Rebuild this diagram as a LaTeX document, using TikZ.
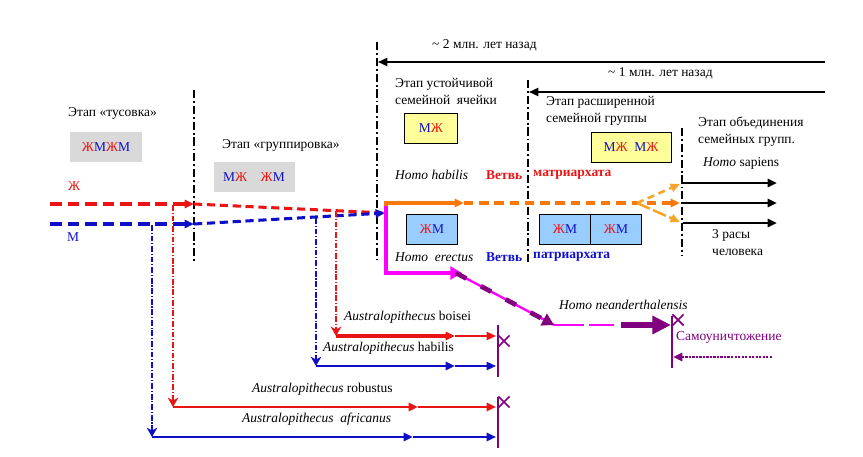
\documentclass[tikz,border=0pt]{standalone}
\usepackage{fontspec}
\setmainfont{Liberation Serif}
\usetikzlibrary{arrows.meta,shapes.misc}

\definecolor{zred}{RGB}{235,20,20}
\definecolor{mblue}{RGB}{15,15,200}
\definecolor{zorange}{RGB}{250,120,10}
\definecolor{zlorange}{RGB}{245,165,40}
\definecolor{zpurple}{RGB}{128,0,128}
\definecolor{zmag}{RGB}{255,0,255}
\definecolor{zgray}{RGB}{217,217,217}
\definecolor{zyellow}{RGB}{255,255,153}
\definecolor{zlblue}{RGB}{153,204,255}

\newcommand{\ZhM}{\textcolor{zred}{Ж}\textcolor{mblue}{М}}
\newcommand{\MZh}{\textcolor{mblue}{М}\textcolor{zred}{Ж}}

\begin{document}
\begin{tikzpicture}[
    x=0.03cm, y=-0.03cm,
    every node/.style={inner sep=0pt, font=\fontsize{11.5}{14.5}\selectfont}
]

\tikzset{
  stage/.style={line width=1.5pt, dash pattern=on 7pt off 2.5pt on 1.5pt off 2.5pt},
  graybox/.style={fill=zgray, minimum height=0.88cm},
  colbox/.style={draw=black, line width=0.8pt, fill=#1, minimum height=0.9cm},
  tip/.style={-{Triangle[length=8pt,width=7pt]}},
  drop/.style={line width=1.3pt, dash pattern=on 5pt off 1.5pt on 1pt off 1.5pt,
               -{Stealth[length=8pt,width=9pt,inset=2.5pt]}},
  kill/.style={draw=zpurple, cross out, line width=1.5pt, minimum size=8pt},
  bar/.style={draw=zpurple, line width=2.4pt}
}

\useasboundingbox (0,0) rectangle (863,457);

% ================= stage lines =================

\coordinate (s1t) at (194,90);  \coordinate (s1b) at (194,262);
\coordinate (s2t) at (377,42);  \coordinate (s2b) at (377,263);
\coordinate (s3t) at (528,80);  \coordinate (s3b) at (528,265);
\coordinate (s4t) at (682,128); \coordinate (s4b) at (682,256);

\draw[stage] (s1t) -- (s1b);
\draw[stage] (s2t) -- (s2b);
\draw[stage] (s3t) -- (s3b);
\draw[stage] (s4t) -- (s4b);

% ================= time arrows =================

\coordinate (t2r) at (825,62); \coordinate (t2l) at (378,62);
\coordinate (t1r) at (825,92); \coordinate (t1l) at (529,92);

\draw[line width=1.6pt, tip] (t2r) -- (t2l);
\draw[line width=1.6pt, tip] (t1r) -- (t1l);

\node[anchor=west] (t2) at (432,45) {\textasciitilde{} 2 млн. лет назад};
\node[anchor=west] (t1) at (608,73) {\textasciitilde{} 1 млн. лет назад};

% ================= stage titles and boxes =================

\node[anchor=west] (st1) at (68,113) {Этап «тусовка»};
\node[graybox, minimum width=2.13cm] (g1) at (106,147) {\ZhM\ZhM\hspace{0.4em}};
\node[anchor=west] (st2) at (222,145) {Этап «группировка»};
\node[graybox, minimum width=2.43cm] (g2) at (254,177) {\MZh\quad\ZhM};

\node[anchor=west, align=left] (st3) at (395,91) {Этап устойчивой\\семейной\ \ ячейки};
\node[colbox=zyellow, minimum width=1.59cm] (y1) at (431,128) {\MZh\hspace{0.4em}};
\node[anchor=west, align=left] (st4) at (546,111) {Этап расширенной\\семейной группы};
\node[colbox=zyellow, minimum width=2.4cm] (y2) at (631,147) {\MZh\ \ \MZh};
\node[anchor=west, align=left] (st5) at (698,132) {Этап объединения\\семейных групп.};

\node[colbox=zlblue, minimum width=1.53cm] (c1) at (432,229) {\ZhM\hspace{0.4em}};
\node[colbox=zlblue, minimum width=1.53cm] (c2) at (565,229) {\ZhM\hspace{0.4em}};
\node[colbox=zlblue, minimum width=1.53cm] (c3) at (616,229) {\ZhM\hspace{0.4em}};

% ================= early lines =================

\node[anchor=west, text=zred] (zh) at (68,186) {Ж};
\node[anchor=west, text=mblue] (m) at (67,237) {М};

\coordinate (rs) at (50,204);  \coordinate (r1) at (194,204);
\coordinate (bs) at (50,224);  \coordinate (b1) at (194,224);
\coordinate (mg) at (385,213);

\draw[zred, line width=3.2pt, dash pattern=on 10pt off 5pt, tip] (rs) -- (r1);
\draw[zred, line width=2.6pt, dash pattern=on 7pt off 4pt] (r1) -- (mg);
\draw[mblue, line width=3.2pt, dash pattern=on 10pt off 5pt, tip] (bs) -- (b1);
\draw[mblue, line width=2.6pt, dash pattern=on 7pt off 4pt, tip] (b1) -- (mg);

% ================= Australopithecus =================

\coordinate (ra0) at (173,205); \coordinate (ra1) at (173,407);
\coordinate (ra2) at (418,407); \coordinate (ra3) at (496,407);
\coordinate (ba0) at (152,225); \coordinate (ba1) at (152,437);
\coordinate (ba2) at (413,437); \coordinate (ba3) at (496,437);
\coordinate (bb0) at (316,218); \coordinate (bb1) at (316,366);
\coordinate (bb2) at (455,366); \coordinate (bb3) at (496,366);
\coordinate (rb0) at (336,211); \coordinate (rb1) at (336,336);
\coordinate (rb2) at (455,336); \coordinate (rb3) at (496,336);

\draw[zred, drop] (ra0) -- (ra1);
\draw[zred, line width=2.4pt, tip] (ra1) -- (ra2);
\draw[zred, line width=1.8pt, tip] (ra2) -- (ra3);
\draw[mblue, drop] (ba0) -- (ba1);
\draw[mblue, line width=2pt, tip] (ba1) -- (ba2);
\draw[mblue, line width=1.8pt, tip] (ba2) -- (ba3);
\draw[mblue, drop] (bb0) -- (bb1);
\draw[mblue, line width=2.4pt, tip] (bb1) -- (bb2);
\draw[mblue, line width=1.6pt, tip] (bb2) -- (bb3);
\draw[zred, drop] (rb0) -- (rb1);
\draw[zred, line width=2.6pt, tip] (rb1) -- (rb2);
\draw[zred, line width=1.6pt, tip] (rb2) -- (rb3);

\coordinate (p1t) at (498,325); \coordinate (p1b) at (498,377);
\coordinate (p2t) at (498,397); \coordinate (p2b) at (498,448);
\draw[bar] (p1t) -- (p1b);
\draw[bar] (p2t) -- (p2b);
\node[kill] (x1) at (504,341) {};
\node[kill] (x2) at (504,402) {};

\node[anchor=west] (ab) at (344,317) {\textit{Australopithecus} boisei};
\node[anchor=west] (ah) at (323,348) {\textit{Australopithecus} habilis};
\node[anchor=west] (ar) at (252,389) {\textit{Australopithecus} robustus};
\node[anchor=west] (aa) at (242,419) {\textit{Australopithecus\ \ africanus}};

% ================= Homo =================

\coordinate (o0) at (386,213); \coordinate (o2) at (464,203);
\coordinate (o3) at (680,203); \coordinate (fork) at (637,203);
\coordinate (oup) at (680,184); \coordinate (odn) at (680,222);

\draw[zorange, line width=2.6pt, tip] (o0) |- (o2);
\draw[zorange, line width=2.6pt, dash pattern=on 8pt off 5pt, tip] (o2) -- (o3);
\draw[zlorange, line width=2.2pt, dash pattern=on 6pt off 4pt, tip] (fork) -- (oup);
\draw[zlorange, line width=2.2pt, dash pattern=on 12pt off 3pt, tip] (fork) -- (odn);

\coordinate (k1a) at (683,183); \coordinate (k1b) at (777,183);
\coordinate (k2a) at (683,203); \coordinate (k2b) at (777,203);
\coordinate (k3a) at (683,223); \coordinate (k3b) at (777,223);
\draw[line width=2pt, tip] (k1a) -- (k1b);
\draw[line width=2pt, tip] (k2a) -- (k2b);
\draw[line width=2pt, tip] (k3a) -- (k3b);

\node[anchor=west] (hs) at (703,163) {\textit{Homo} sapiens};
\node[anchor=west, align=left] (rc) at (712,243) {3 расы\\человека};

\node[anchor=west] (hh) at (395,175) {\textit{Homo habilis}};
\node[anchor=west, text=zred] (vm) at (486,175) {\textbf{Ветвь}};
\node[anchor=west, text=zred] (mt) at (533,175) {\textbf{матриархата}};
\node[anchor=west] (he) at (395,257) {\textit{Homo\ \ erectus}};
\node[anchor=west, text=mblue] (vp) at (486,257) {\textbf{Ветвь}};
\node[anchor=west, text=mblue] (pt) at (533,257) {\textbf{патриархата}};

% ================= Homo neanderthalensis =================

\coordinate (m0) at (386,206); \coordinate (m2) at (462,273);
\coordinate (d0) at (456,273); \coordinate (d1) at (554,325);
\coordinate (h1) at (614,325); \coordinate (h2) at (621,325);
\coordinate (h3) at (671,325);

\draw[zmag, line width=4pt, -{Triangle[length=10pt,width=11pt]}] (m0) |- (m2);
\draw[zmag, line width=2pt] (d0) -- (d1);
\draw[zpurple, line width=4pt, dash pattern=on 10pt off 14pt,
      -{Triangle[length=10pt,width=11pt]}] (d0) -- (d1);
\draw[zmag, line width=2.4pt, dash pattern=on 26pt off 4pt] (d1) -- (h1);
\draw[zpurple, line width=5pt, -{Triangle[length=16pt,width=15pt]}] (h2) -- (h3);

\coordinate (e1t) at (672,316); \coordinate (e1b) at (672,368);
\draw[bar] (e1t) -- (e1b);
\node[kill] (x3) at (678,320) {};

\coordinate (sd0) at (772,357); \coordinate (sd1) at (673,357);
\draw[zpurple, line width=2pt, dash pattern=on 2pt off 1pt, tip] (sd0) -- (sd1);

\node[anchor=west] (hn) at (559,305) {\textit{Homo neanderthalensis}};
\node[anchor=west, text=zpurple] (su) at (676,337) {Самоуничтожение};

\end{tikzpicture}
\end{document}
